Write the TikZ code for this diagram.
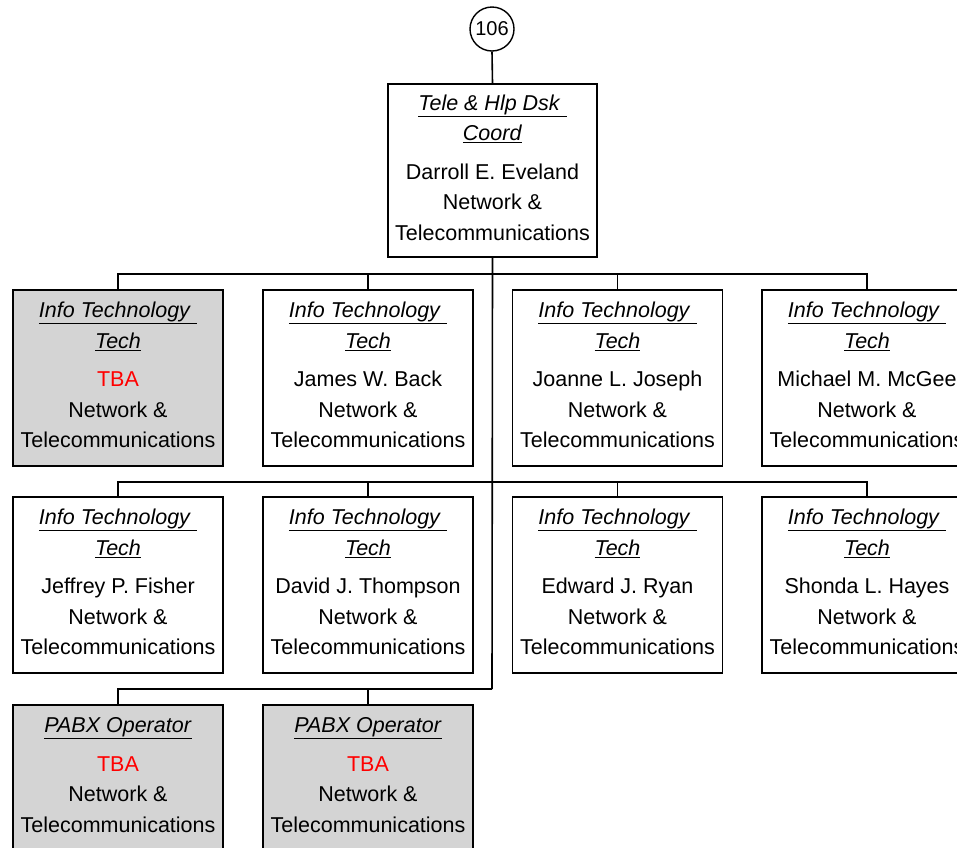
\documentclass[tikz,border=0pt]{standalone}
\usepackage{fontspec}
\setmainfont{Liberation Sans}
\definecolor{boxgray}{HTML}{D4D4D4}
\definecolor{tbared}{HTML}{FF0000}
\newcommand{\ttl}[1]{\underline{\textit{#1}}}
\newcommand{\tba}{\textcolor{tbared}{TBA}}
\newcommand{\upfix}{\\[-24.5pt]\mbox{}}
\tikzset{
  orgbox/.style={draw=black, line width=1.6pt, fill=white, minimum width=210pt, minimum height=176pt,
    align=center, inner sep=0pt, font=\fontsize{21.5}{30.5}\selectfont},
  vacant/.style={orgbox, fill=boxgray},
  link/.style={draw=black, line width=1.6pt},
  refcircle/.style={draw=black, line width=1.4pt, circle, minimum size=44pt, inner sep=0pt,
    font=\fontsize{20}{24}\selectfont}
}
\begin{document}
\begin{tikzpicture}[x=1pt,y=-1pt]
\clip (0,0) rectangle (957,847);
\fill[white] (0,0) rectangle (957,847);
% nodes
\node[refcircle] (ref) at (492,29) {106};
\node[orgbox, minimum width=209pt, minimum height=173pt] (top) at (492.5,170.5)
  {\ttl{Tele \& Hlp Dsk\ }\\\ttl{Coord}\\[8pt]Darroll E. Eveland\\Network \&\\Telecommunications\upfix};
% row 1
\node[vacant] (a1) at (118,378) {\ttl{Info Technology\ }\\\ttl{Tech}\\[8pt]\tba\\Network \&\\Telecommunications\upfix};
\node[orgbox] (a2) at (368,378) {\ttl{Info Technology\ }\\\ttl{Tech}\\[8pt]James W. Back\\Network \&\\Telecommunications\upfix};
\node[orgbox] (a3) at (617.5,378) {\ttl{Info Technology\ }\\\ttl{Tech}\\[8pt]Joanne L. Joseph\\Network \&\\Telecommunications\upfix};
\node[orgbox] (a4) at (867,378) {\ttl{Info Technology\ }\\\ttl{Tech}\\[8pt]Michael M. McGee\\Network \&\\Telecommunications\upfix};
% row 2
\node[orgbox] (b1) at (118,585) {\ttl{Info Technology\ }\\\ttl{Tech}\\[8pt]Jeffrey P. Fisher\\Network \&\\Telecommunications\upfix};
\node[orgbox] (b2) at (368,585) {\ttl{Info Technology\ }\\\ttl{Tech}\\[8pt]David J. Thompson\\Network \&\\Telecommunications\upfix};
\node[orgbox] (b3) at (617.5,585) {\ttl{Info Technology\ }\\\ttl{Tech}\\[8pt]Edward J. Ryan\\Network \&\\Telecommunications\upfix};
\node[orgbox] (b4) at (867,585) {\ttl{Info Technology\ }\\\ttl{Tech}\\[8pt]Shonda L. Hayes\\Network \&\\Telecommunications\upfix};
% row 3
\node[vacant] (c1) at (118,793) {\ttl{PABX Operator}\\[8pt]\tba\\Network \&\\Telecommunications\\[6pt]\mbox{}};
\node[vacant] (c2) at (368,793) {\ttl{PABX Operator}\\[8pt]\tba\\Network \&\\Telecommunications\\[6pt]\mbox{}};
% junctions
\coordinate (j1) at (492,274);
\coordinate (j2) at (492,482);
\coordinate (j3) at (492,689);
% connectors
\draw[link] (ref.south) -- (top.north);
\draw[link] (top.south) -- (j3);
\draw[link] (j1) -| (a1.north);
\draw[link] (j1) -| (a2.north);
\draw[link] (j1) -| (a3.north);
\draw[link] (j1) -| (a4.north);
\draw[link] (j2) -| (b1.north);
\draw[link] (j2) -| (b2.north);
\draw[link] (j2) -| (b3.north);
\draw[link] (j2) -| (b4.north);
\draw[link] (j3) -| (c1.north);
\draw[link] (j3) -| (c2.north);
\end{tikzpicture}
\end{document}
